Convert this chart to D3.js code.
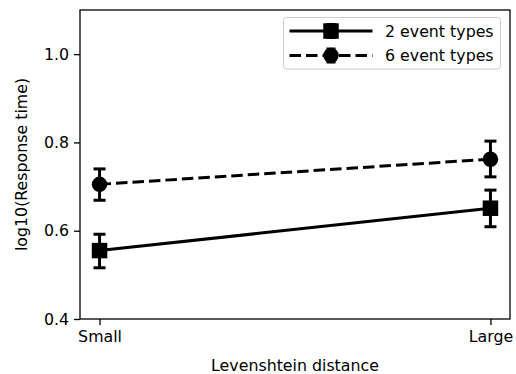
<!DOCTYPE html>
<html><head><meta charset="utf-8">
<script src="https://cdn.jsdelivr.net/npm/d3@7"></script>
<style>body{margin:0;background:#fff}svg{display:block}text{font-family:"DejaVu Sans",sans-serif;fill:#000}</style>
</head><body>
<svg id="c" width="516" height="374"></svg>
<script>
const categories = ["Small", "Large"];
const seriesNames = ["2 event types", "6 event types"];
const means2 = [0.555, 0.651];
const lower2 = [0.516, 0.609];
const upper2 = [0.592, 0.692];
const means6 = [0.705, 0.762];
const lower6 = [0.669, 0.722];
const upper6 = [0.740, 0.803];
const yTicks = [0.4, 0.6, 0.8, 1.0];

const series = [
  {name: seriesNames[0], mean: means2, lo: lower2, hi: upper2, marker: "square", dash: null},
  {name: seriesNames[1], mean: means6, lo: lower6, hi: upper6, marker: "circle", dash: "11.5,5"}
];

const svg = d3.select("#c");
const L = 80, R = 510, T = 10, B = 319;
const x = d3.scaleLinear().domain([-0.05, 1.05]).range([L, R]);
const y = d3.scaleLinear().domain([0.4, 1.1]).range([B, T]);
const FS = 15.8, LW = 3, MS = 15.5, CAP = 6;

// axes
const yAxis = d3.axisLeft(y).tickValues(yTicks).tickFormat(d3.format(".1f")).tickSize(6).tickPadding(5);
const gy = svg.append("g").attr("transform", `translate(${L},0)`).call(yAxis);
const xAxis = d3.axisBottom(x).tickValues([0, 1]).tickFormat(i => categories[i]).tickSize(6).tickPadding(5);
const gx = svg.append("g").attr("transform", `translate(0,${B})`).call(xAxis);
[gx, gy].forEach(g => {
  g.select(".domain").remove();
  g.selectAll(".tick line").attr("stroke", "#000").attr("stroke-width", 1.3);
  g.selectAll(".tick text").attr("font-size", FS).attr("font-family", "DejaVu Sans").attr("fill", "#000");
});
gx.selectAll(".tick text").attr("dy", "0.75em");
svg.append("rect").attr("x", L).attr("y", T).attr("width", R - L).attr("height", B - T)
  .attr("fill", "none").attr("stroke", "#000").attr("stroke-width", 1.3);

// labels
svg.append("text").attr("x", (L + R) / 2).attr("y", 371).attr("text-anchor", "middle")
  .attr("font-size", FS).text("Levenshtein distance");
svg.append("text").attr("transform", `translate(27,${(T + B) / 2}) rotate(-90)`).attr("text-anchor", "middle")
  .attr("font-size", FS).text("log10(Response time)");

function drawMarker(g, type, cx, cy) {
  if (type === "square") {
    g.append("rect").attr("x", cx - MS / 2).attr("y", cy - MS / 2).attr("width", MS).attr("height", MS).attr("fill", "#000");
  } else {
    g.append("circle").attr("cx", cx).attr("cy", cy).attr("r", MS / 2).attr("fill", "#000");
  }
}

const idx = [0, 1];
series.forEach(s => {
  const g = svg.append("g");
  g.append("path").datum(idx)
    .attr("d", d3.line().x(i => x(i)).y(i => y(s.mean[i])))
    .attr("fill", "none").attr("stroke", "#000").attr("stroke-width", LW)
    .attr("stroke-dasharray", s.dash);
  idx.forEach(i => {
    const cx = x(i);
    g.append("line").attr("x1", cx).attr("x2", cx).attr("y1", y(s.lo[i])).attr("y2", y(s.hi[i]))
      .attr("stroke", "#000").attr("stroke-width", LW);
    [s.lo[i], s.hi[i]].forEach(v => {
      g.append("line").attr("x1", cx - CAP).attr("x2", cx + CAP).attr("y1", y(v)).attr("y2", y(v))
        .attr("stroke", "#000").attr("stroke-width", LW);
    });
    drawMarker(g, s.marker, cx, y(s.mean[i]));
  });
});

// legend
const lg = svg.append("g");
lg.append("rect").attr("x", 283.5).attr("y", 17.5).attr("width", 217).attr("height", 51.5)
  .attr("rx", 3).attr("fill", "#fff").attr("fill-opacity", 0.8).attr("stroke", "#ccc").attr("stroke-width", 1);
series.forEach((s, k) => {
  const cy = 31 + k * 24.5;
  const g = lg.append("g");
  g.append("line").attr("x1", 289.5).attr("x2", 372.5).attr("y1", cy).attr("y2", cy)
    .attr("stroke", "#000").attr("stroke-width", LW).attr("stroke-dasharray", s.dash);
  const mx = 331;
  g.append("line").attr("x1", mx).attr("x2", mx).attr("y1", cy - 6.5).attr("y2", cy + 6.5)
    .attr("stroke", "#000").attr("stroke-width", LW);
  [cy - 6.5, cy + 6.5].forEach(v => g.append("line").attr("x1", mx - 4.5).attr("x2", mx + 4.5).attr("y1", v).attr("y2", v)
    .attr("stroke", "#000").attr("stroke-width", LW));
  drawMarker(g, s.marker, mx, cy);
  g.append("text").attr("x", 385).attr("y", cy + 5.5).attr("font-size", FS).text(s.name);
});
</script>
</body></html>
